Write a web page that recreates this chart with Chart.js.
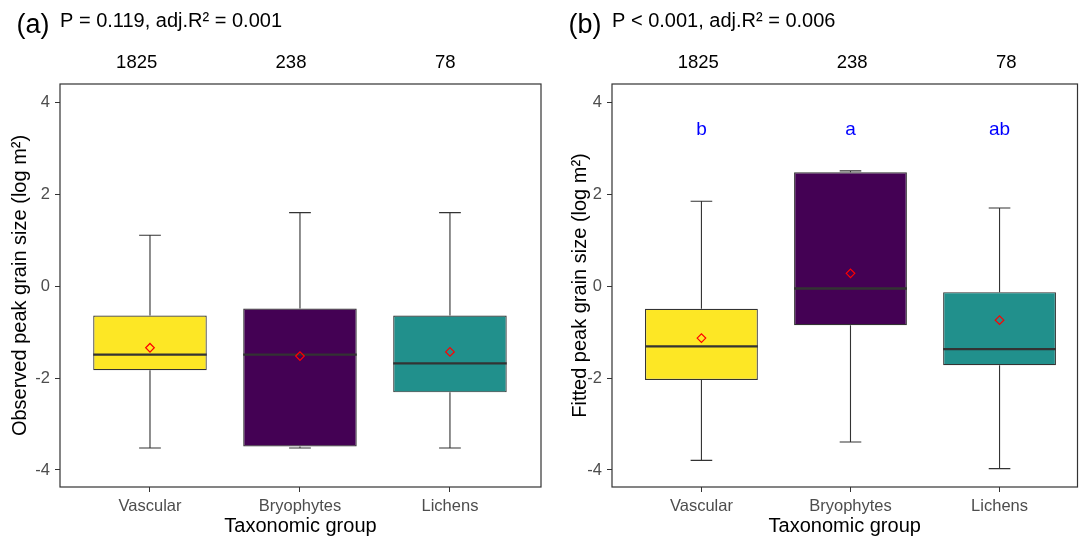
<!DOCTYPE html>
<html><head><meta charset="utf-8">
<script src="https://cdn.jsdelivr.net/npm/chart.js@4"></script>
<style>
html,body{margin:0;padding:0;background:#fff;overflow:hidden}
#wrap{position:relative;width:1083px;height:544px;background:#fff}
#wrap canvas{position:absolute;left:0;top:0}
</style></head><body>
<div id="wrap"><canvas id="ca" width="1083" height="544"></canvas><canvas id="cb" width="1083" height="544"></canvas></div>
<script>
// ---- data ----
const categories = ['Vascular', 'Bryophytes', 'Lichens'];
const counts = ['1825', '238', '78'];
const yTicks = [-4, -2, 0, 2, 4];

// (a) observed
const obsMin    = [-3.52, -3.52, -3.52];
const obsQ1     = [-1.83, -3.49, -2.31];
const obsMedian = [-1.49, -1.49, -1.68];
const obsQ3     = [-0.64, -0.485, -0.64];
const obsMax    = [1.11, 1.60, 1.60];
const obsMean   = [-1.34, -1.52, -1.43];

// (b) fitted
const fitMin    = [-3.79, -3.39, -3.97];
const fitQ1     = [-2.04, -0.85, -1.72];
const fitMedian = [-1.31, -0.05, -1.37];
const fitQ3     = [-0.49, 2.48, -0.13];
const fitMax    = [1.85, 2.51, 1.70];
const fitMean   = [-1.13, 0.28, -0.74];
const fitLetters = ['b', 'a', 'ab'];

const panelLabels = ['(a)', '(b)'];
const statTexts = ['P = 0.119, adj.R\u00B2 = 0.001', 'P < 0.001, adj.R\u00B2 = 0.006'];
const yTitles = ['Observed peak grain size (log m\u00B2)', 'Fitted peak grain size (log m\u00B2)'];
const xTitle = 'Taxonomic group';
const fillColors = ['#FDE725', '#440154', '#21908C'];

const FONT = "'Liberation Sans', Arial, sans-serif";

const boxPlugin = {
  id: 'boxExtras',
  beforeDatasetsDraw(chart, args, o) {
    const {ctx, scales: {x, y}} = chart;
    ctx.save();
    ctx.strokeStyle = '#333333';
    ctx.lineWidth = 1.1;
    o.min.forEach((v, i) => {
      const px = x.getPixelForValue(i + 1);
      const half = x.getPixelForValue(i + 1 + o.capWidth / 2) - px;
      const yMax = y.getPixelForValue(o.max[i]);
      const yMin = y.getPixelForValue(o.min[i]);
      ctx.beginPath();
      ctx.moveTo(px, yMax); ctx.lineTo(px, y.getPixelForValue(o.q3[i]));
      ctx.moveTo(px, y.getPixelForValue(o.q1[i])); ctx.lineTo(px, yMin);
      ctx.moveTo(px - half, yMax); ctx.lineTo(px + half, yMax);
      ctx.moveTo(px - half, yMin); ctx.lineTo(px + half, yMin);
      ctx.stroke();
    });
    ctx.restore();
  },
  afterDatasetDraw(chart, args, o) {
    if (args.index !== 0) return;
    const {ctx, scales: {y}} = chart;
    const meta = chart.getDatasetMeta(0);
    ctx.save();
    ctx.strokeStyle = '#333333';
    ctx.lineWidth = 2.4;
    meta.data.forEach((bar, i) => {
      const p = bar.getProps(['x', 'width'], true);
      const py = y.getPixelForValue(o.median[i]);
      ctx.beginPath();
      ctx.moveTo(p.x - p.width / 2, py);
      ctx.lineTo(p.x + p.width / 2, py);
      ctx.stroke();
    });
    ctx.restore();
  },
  afterDraw(chart, args, o) {
    const {ctx, chartArea: a, scales: {x, y}} = chart;
    ctx.save();
    ctx.strokeStyle = '#333333';
    ctx.lineWidth = 1.2;
    ctx.strokeRect(a.left, a.top, a.right - a.left, a.bottom - a.top);
    ctx.fillStyle = '#000';
    ctx.textBaseline = 'alphabetic';
    ctx.textAlign = 'left';
    ctx.font = '27px ' + FONT;
    ctx.fillText(o.label, a.left - 43.5, 33);
    ctx.font = '20px ' + FONT;
    ctx.fillText(o.stat, a.left, 27.3);
    if (o.letters) {
      ctx.fillStyle = '#0000FF';
      ctx.font = '19px ' + FONT;
      ctx.textAlign = 'center';
      o.letters.forEach((t, i) => {
        ctx.fillText(t, x.getPixelForValue(i + 1), y.getPixelForValue(o.letterY));
      });
    }
    ctx.restore();
  }
};

function makeChart(id, p) {
  return new Chart(document.getElementById(id), {
    type: 'bar',
    data: {
      datasets: [
        {
          type: 'bar',
          data: categories.map((c, i) => ({x: i + 1, y: [p.q1[i], p.q3[i]]})),
          backgroundColor: fillColors,
          borderColor: '#333333',
          borderWidth: 1.2,
          borderSkipped: false,
          barPercentage: 0.757,
          categoryPercentage: 1,
          xAxisID: 'x', yAxisID: 'y',
          order: 2
        },
        {
          type: 'scatter',
          data: categories.map((c, i) => ({x: i + 1, y: p.mean[i]})),
          pointStyle: 'rectRot',
          pointRadius: 4.3,
          pointBorderColor: '#FF0000',
          pointBackgroundColor: 'rgba(0,0,0,0)',
          pointBorderWidth: 1.2,
          xAxisID: 'x', yAxisID: 'y',
          order: 1
        }
      ]
    },
    options: {
      responsive: false,
      animation: false,
      events: [],
      layout: {padding: {left: p.padL, right: p.padR, top: 0, bottom: 0}},
      plugins: {
        legend: {display: false},
        tooltip: {enabled: false},
        boxExtras: {
          min: p.min, q1: p.q1, median: p.median, q3: p.q3, max: p.max,
          capWidth: 0.145, label: p.label, stat: p.stat,
          letters: p.letters, letterY: 3.3
        }
      },
      scales: {
        x: {
          type: 'linear', position: 'bottom', min: 0.4, max: p.xMax, offset: false,
          afterBuildTicks: s => { s.ticks = categories.map((c, i) => ({value: i + 1})); },
          afterFit: s => { s.height = 57; },
          ticks: {callback: v => categories[v - 1], color: '#4D4D4D', font: {family: FONT, size: 16.5}, padding: 5, maxRotation: 0, autoSkip: false},
          grid: {drawOnChartArea: false, drawTicks: true, tickLength: 5, tickColor: '#333333', offset: false},
          border: {display: false},
          title: {display: true, text: xTitle, color: '#000', font: {family: FONT, size: 20}, padding: {top: 0, bottom: 5.4}}
        },
        x2: {
          type: 'linear', position: 'top', min: p.cMin, max: p.cMax, offset: false,
          afterBuildTicks: s => { s.ticks = counts.map((c, i) => ({value: i + 1})); },
          afterFit: s => { s.height = 84; },
          ticks: {callback: v => counts[v - 1], color: '#000', font: {family: FONT, size: 18.5}, padding: 9.5, maxRotation: 0, autoSkip: false},
          grid: {display: false, drawTicks: false, offset: false},
          border: {display: false}
        },
        y: {
          type: 'linear', position: 'left', min: -4.37, max: 4.40,
          afterBuildTicks: s => { s.ticks = yTicks.map(v => ({value: v})); },
          afterFit: s => { s.width = 60; },
          ticks: {color: '#4D4D4D', font: {family: FONT, size: 16.5}, padding: 5},
          grid: {drawOnChartArea: false, drawTicks: true, tickLength: 5, tickColor: '#333333'},
          border: {display: false},
          title: {display: true, text: p.yTitle, color: '#000', font: {family: FONT, size: 20}, padding: {top: p.yTitlePad, bottom: 0}}
        }
      }
    },
    plugins: [boxPlugin]
  });
}

makeChart('ca', {
  min: obsMin, q1: obsQ1, median: obsMedian, q3: obsQ3, max: obsMax, mean: obsMean,
  label: panelLabels[0], stat: statTexts[0], yTitle: yTitles[0], letters: null,
  padL: 0, padR: 542, xMax: 3.607, cMin: 0.503, cMax: 3.62, yTitlePad: 8.7
});
makeChart('cb', {
  min: fitMin, q1: fitQ1, median: fitMedian, q3: fitQ3, max: fitMax, mean: fitMean,
  label: panelLabels[1], stat: statTexts[1], yTitle: yTitles[1], letters: fitLetters,
  padL: 552, padR: 2.5, xMax: 3.523, cMin: 0.44, cMax: 3.463, yTitlePad: 16.7
});
</script>
</body></html>
